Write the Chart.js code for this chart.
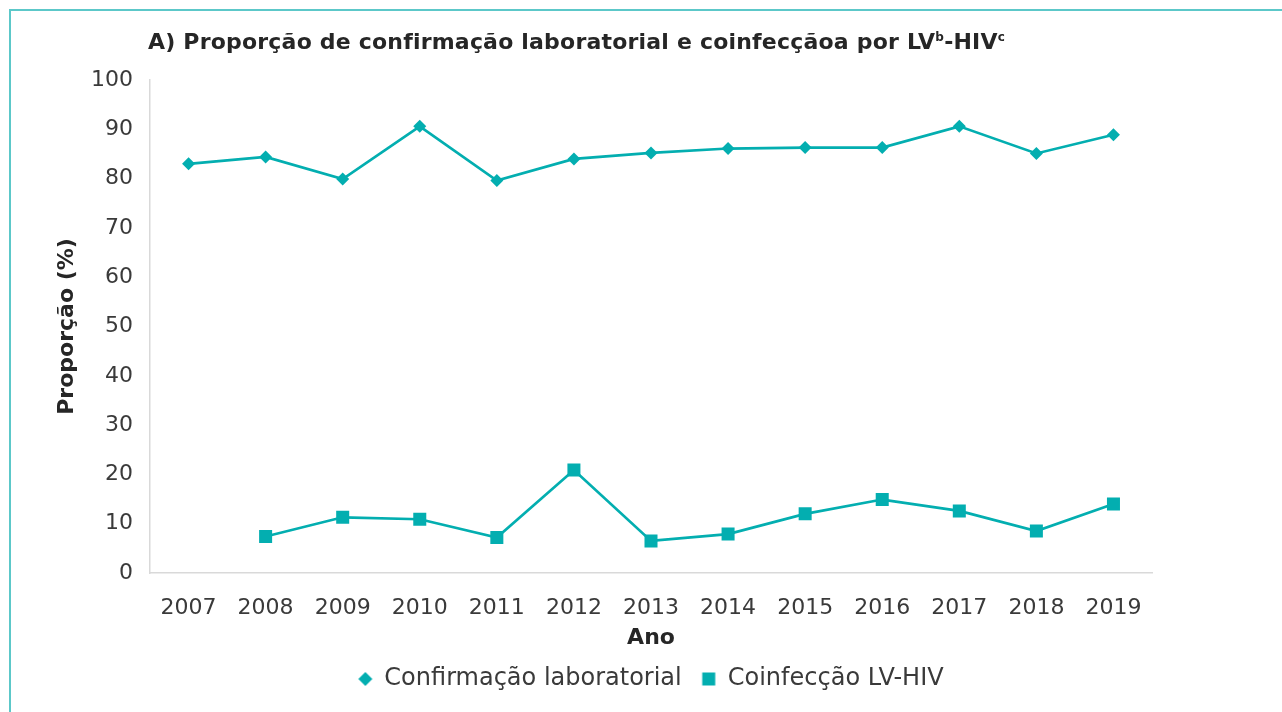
<!DOCTYPE html>
<html>
<head>
<meta charset="utf-8">
<script src="https://cdn.jsdelivr.net/npm/chart.js@4/dist/chart.umd.min.js"></script>
<style>
  html, body { margin:0; padding:0; background:#ffffff; }
  #wrap { position:relative; width:1282px; height:712px; overflow:hidden; }
  #frame { position:absolute; left:9px; top:9px; width:1290px; height:720px;
           border-left:2px solid #5CC8C9; border-top:2px solid #5CC8C9; }
  #title { position:absolute; left:148px; top:31px; font-family:"DejaVu Sans", sans-serif;
           font-weight:bold; font-size:22px; line-height:22px; letter-spacing:0.2px; color:#262626; white-space:nowrap; }
  #title sup { font-size:12px; vertical-align:8px; line-height:0; }
  canvas { position:absolute; left:0; top:0; }
</style>
</head>
<body>
<div id="wrap">
  <div id="frame"></div>
  <canvas id="c" width="1282" height="712"></canvas>
  <div id="title">A) Proporção de confirmação laboratorial e coinfecçãoa por LV<sup>b</sup>-HIV<sup>c</sup></div>
</div>
<script>
const years = ['2007','2008','2009','2010','2011','2012','2013','2014','2015','2016','2017','2018','2019'];
const confirmacao = [83.0, 84.4, 79.9, 90.6, 79.6, 84.0, 85.2, 86.1, 86.3, 86.3, 90.6, 85.1, 88.9];
const coinfeccao = [null, 7.4, 11.3, 10.9, 7.2, 20.9, 6.5, 7.9, 12.0, 14.9, 12.6, 8.5, 14.0];
const seriesNames = ['Confirmação laboratorial', 'Coinfecção LV-HIV'];
const yTicks = { min: 0, max: 100, step: 10 };

const teal = '#03AEB0';
const textColor = '#3a3a3a';
const axisColor = '#D9D9D9';
const FONT = '"DejaVu Sans", sans-serif';

// legend icons
function makeIcon(kind) {
  const cv = document.createElement('canvas');
  cv.width = 16; cv.height = 16;
  const g = cv.getContext('2d');
  g.fillStyle = teal;
  g.beginPath();
  if (kind === 'diamond') {
    g.moveTo(8, 1); g.lineTo(15, 8); g.lineTo(8, 15); g.lineTo(1, 8); g.closePath();
  } else {
    g.rect(1.5, 1.5, 13, 13);
  }
  g.fill();
  return cv;
}
const legendIcons = [makeIcon('diamond'), makeIcon('square')];

new Chart(document.getElementById('c'), {
  type: 'line',
  data: {
    labels: years,
    datasets: [
      { label: seriesNames[0], data: confirmacao, borderColor: teal, backgroundColor: teal,
        borderWidth: 2.7, pointStyle: 'rectRot', pointRadius: 6.5, pointHoverRadius: 6.5,
        pointBorderWidth: 0, pointBackgroundColor: teal, tension: 0 },
      { label: seriesNames[1], data: coinfeccao, borderColor: teal, backgroundColor: teal,
        borderWidth: 2.7, pointStyle: 'rect', pointRadius: 9.2, pointHoverRadius: 9.2,
        pointBorderWidth: 0, pointBackgroundColor: teal, tension: 0, spanGaps: false }
    ]
  },
  options: {
    responsive: false,
    animation: false,
    layout: { padding: { top: 80, left: 0, right: 130, bottom: 11 } },
    plugins: {
      legend: {
        position: 'bottom',
        fullSize: false,
        labels: {
          usePointStyle: true,
          pointStyleWidth: 14,
          boxHeight: 14,
          padding: 20,
          color: textColor,
          font: { family: FONT, size: 24 },
          generateLabels: (chart) => {
            const items = Chart.defaults.plugins.legend.labels.generateLabels(chart);
            items.forEach((it, i) => { it.pointStyle = legendIcons[i]; });
            return items;
          }
        }
      },
      tooltip: { enabled: false }
    },
    scales: {
      x: {
        offset: true,
        grid: { display: false, drawTicks: false },
        border: { display: true, color: axisColor, width: 1.5 },
        ticks: { color: textColor, padding: 22, maxRotation: 0, autoSkip: false,
                 font: { family: FONT, size: 22 } },
        title: { display: true, text: 'Ano', color: '#262626',
                 font: { family: FONT, size: 22, weight: 'bold' }, padding: { top: 0, bottom: -4 } },
        afterFit: (s) => { s.height = 74; }
      },
      y: {
        min: yTicks.min, max: yTicks.max,
        grid: { display: false, drawTicks: false },
        border: { display: true, color: axisColor, width: 1.5 },
        ticks: { stepSize: yTicks.step, color: textColor, padding: 17,
                 font: { family: FONT, size: 22 } },
        title: { display: true, text: 'Proporção (%)', color: '#262626',
                 font: { family: FONT, size: 22, weight: 'bold' }, padding: { top: 54, bottom: 0 } },
        afterFit: (s) => { s.width = 150; }
      }
    }
  }
});
</script>
</body>
</html>
